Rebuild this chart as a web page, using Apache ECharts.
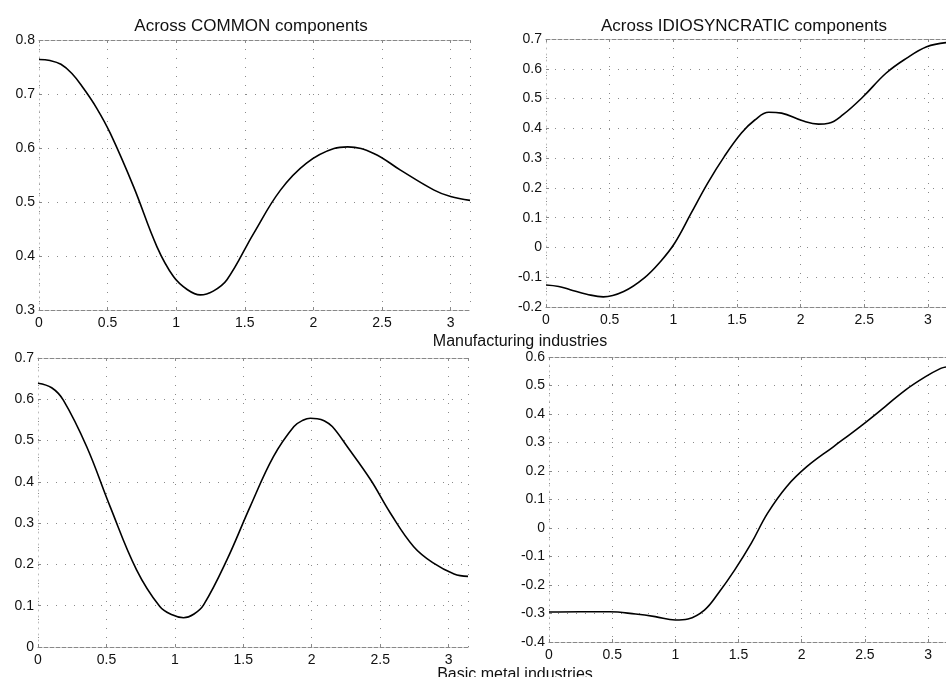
<!DOCTYPE html>
<html>
<head>
<meta charset="utf-8">
<script src="https://cdn.jsdelivr.net/npm/echarts@6/dist/echarts.min.js"></script>
<style>html,body{margin:0;padding:0;background:#fff}#c{width:946px;height:677px}</style>
</head>
<body>
<div id="c"></div>
<script>
// Panel titles and labels
const titles = ["Across COMMON components", "Across IDIOSYNCRATIC components"];
const rowLabels = ["Manufacturing industries", "Basic metal industries"];

// Manufacturing, common components
const mfgCommonX = [0, 0.08, 0.16, 0.24, 0.32, 0.42, 0.52, 0.69, 0.86, 0.98, 1.08, 1.175, 1.27, 1.37, 1.565, 1.76, 1.95, 2.15, 2.25, 2.44, 2.635, 2.88, 3.0, 3.1416];
const mfgCommonY = [0.764, 0.762, 0.755, 0.738, 0.712, 0.674, 0.627, 0.528, 0.417, 0.362, 0.338, 0.328, 0.335, 0.356, 0.442, 0.522, 0.572, 0.599, 0.602, 0.590, 0.559, 0.522, 0.510, 0.503];

// Manufacturing, idiosyncratic components
const mfgIdioX = [0, 0.1, 0.19, 0.32, 0.45, 0.61, 0.77, 0.90, 1.01, 1.14, 1.27, 1.40, 1.535, 1.64, 1.75, 1.85, 2.01, 2.14, 2.22, 2.33, 2.49, 2.67, 2.83, 2.99, 3.1416];
const mfgIdioY = [-0.126, -0.131, -0.142, -0.157, -0.166, -0.148, -0.103, -0.047, 0.014, 0.115, 0.216, 0.305, 0.384, 0.428, 0.454, 0.451, 0.426, 0.414, 0.417, 0.445, 0.506, 0.585, 0.635, 0.674, 0.688];

// Basic metal, common components
const metCommonX = [0, 0.1, 0.185, 0.356, 0.527, 0.72, 0.89, 0.98, 1.063, 1.14, 1.21, 1.38, 1.55, 1.72, 1.87, 1.94, 1.99, 2.04, 2.09, 2.15, 2.26, 2.43, 2.575, 2.745, 2.89, 3.04, 3.1416];
const metCommonY = [0.639, 0.628, 0.598, 0.485, 0.340, 0.187, 0.098, 0.078, 0.071, 0.080, 0.102, 0.211, 0.340, 0.461, 0.534, 0.550, 0.554, 0.553, 0.548, 0.534, 0.485, 0.405, 0.324, 0.243, 0.203, 0.177, 0.171];

// Basic metal, idiosyncratic components
const metIdioX = [0, 0.25, 0.48, 0.685, 0.84, 1.0, 1.10, 1.23, 1.34, 1.47, 1.60, 1.73, 1.88, 2.04, 2.25, 2.46, 2.66, 2.82, 2.98, 3.10, 3.1416];
const metIdioY = [-0.295, -0.294, -0.294, -0.302, -0.311, -0.323, -0.319, -0.288, -0.229, -0.147, -0.054, 0.052, 0.145, 0.215, 0.285, 0.355, 0.426, 0.484, 0.531, 0.560, 0.565];

// Y axis ranges
const yRanges = [[0.3, 0.8], [-0.2, 0.7], [0, 0.7], [-0.4, 0.6]];

const grids = [
  {left: 39, top: 40, width: 431, height: 270},
  {left: 546, top: 39, width: 400, height: 268},
  {left: 38, top: 358, width: 430, height: 289},
  {left: 549, top: 357, width: 399, height: 285}
];

const font = 'Liberation Sans, Arial, sans-serif';
const pairs = (xs, ys) => xs.map((x, i) => [x, ys[i]]);
const seriesData = [pairs(mfgCommonX, mfgCommonY), pairs(mfgIdioX, mfgIdioY), pairs(metCommonX, metCommonY), pairs(metIdioX, metIdioY)];

const dotted = {color: '#8a8a8a', width: 1, type: [1, 8]};
const border = {color: '#888', width: 1, type: [4, 2]};
const fmt = v => String(Math.round(v * 10) / 10);
const xAxes = [];
grids.forEach((g, i) => {
  xAxes.push({
    type: 'value', gridIndex: i, min: 0, max: Math.PI, interval: 0.5, position: 'bottom',
    axisLine: {show: true, onZero: false, lineStyle: border},
    axisTick: {show: true, inside: true, length: 3, lineStyle: {color: '#888'}},
    axisLabel: {showMaxLabel: false, color: '#111', fontFamily: font, fontSize: 14, margin: 6, formatter: fmt},
    splitLine: {show: true, lineStyle: dotted}
  });
});
grids.forEach((g, i) => {
  xAxes.push({
    type: 'value', gridIndex: i, min: 0, max: Math.PI, interval: 0.5, position: 'top',
    axisLine: {show: true, onZero: false, lineStyle: border},
    axisTick: {show: true, inside: true, length: 3, lineStyle: {color: '#888'}},
    axisLabel: {show: false}, splitLine: {show: false}
  });
});
const yAxes = grids.map((g, i) => ({
  type: 'value', gridIndex: i, min: yRanges[i][0], max: yRanges[i][1], interval: 0.1,
  axisLine: {show: true, onZero: false, lineStyle: {color: '#bbb', width: 1, type: [1, 5]}},
  axisTick: {show: true, inside: true, length: 3, lineStyle: {color: '#888'}},
  axisLabel: {color: '#111', fontFamily: font, fontSize: 14, margin: 4, formatter: fmt},
  splitLine: {show: true, lineStyle: dotted}
}));

const tStyle = size => ({fontFamily: font, fontSize: size, fontWeight: 'normal', color: '#111'});
const chart = echarts.init(document.getElementById('c'), null, {renderer: 'canvas'});
chart.setOption({
  backgroundColor: '#fff',
  animation: false,
  title: [
    {text: titles[0], left: 246, top: 13, textAlign: 'center', textStyle: tStyle(17)},
    {text: titles[1], left: 739, top: 13, textAlign: 'center', textStyle: tStyle(17)},
    {text: rowLabels[0], left: 515, top: 329, textAlign: 'center', textStyle: tStyle(16)},
    {text: rowLabels[1], left: 510, top: 662, textAlign: 'center', textStyle: tStyle(16)}
  ],
  grid: grids,
  xAxis: xAxes,
  yAxis: yAxes,
  series: seriesData.map((d, i) => ({
    type: 'line', xAxisIndex: i, yAxisIndex: i, data: d, smooth: 0.4, showSymbol: false,
    lineStyle: {color: '#000', width: 1.6}
  }))
});
</script>
</body>
</html>
